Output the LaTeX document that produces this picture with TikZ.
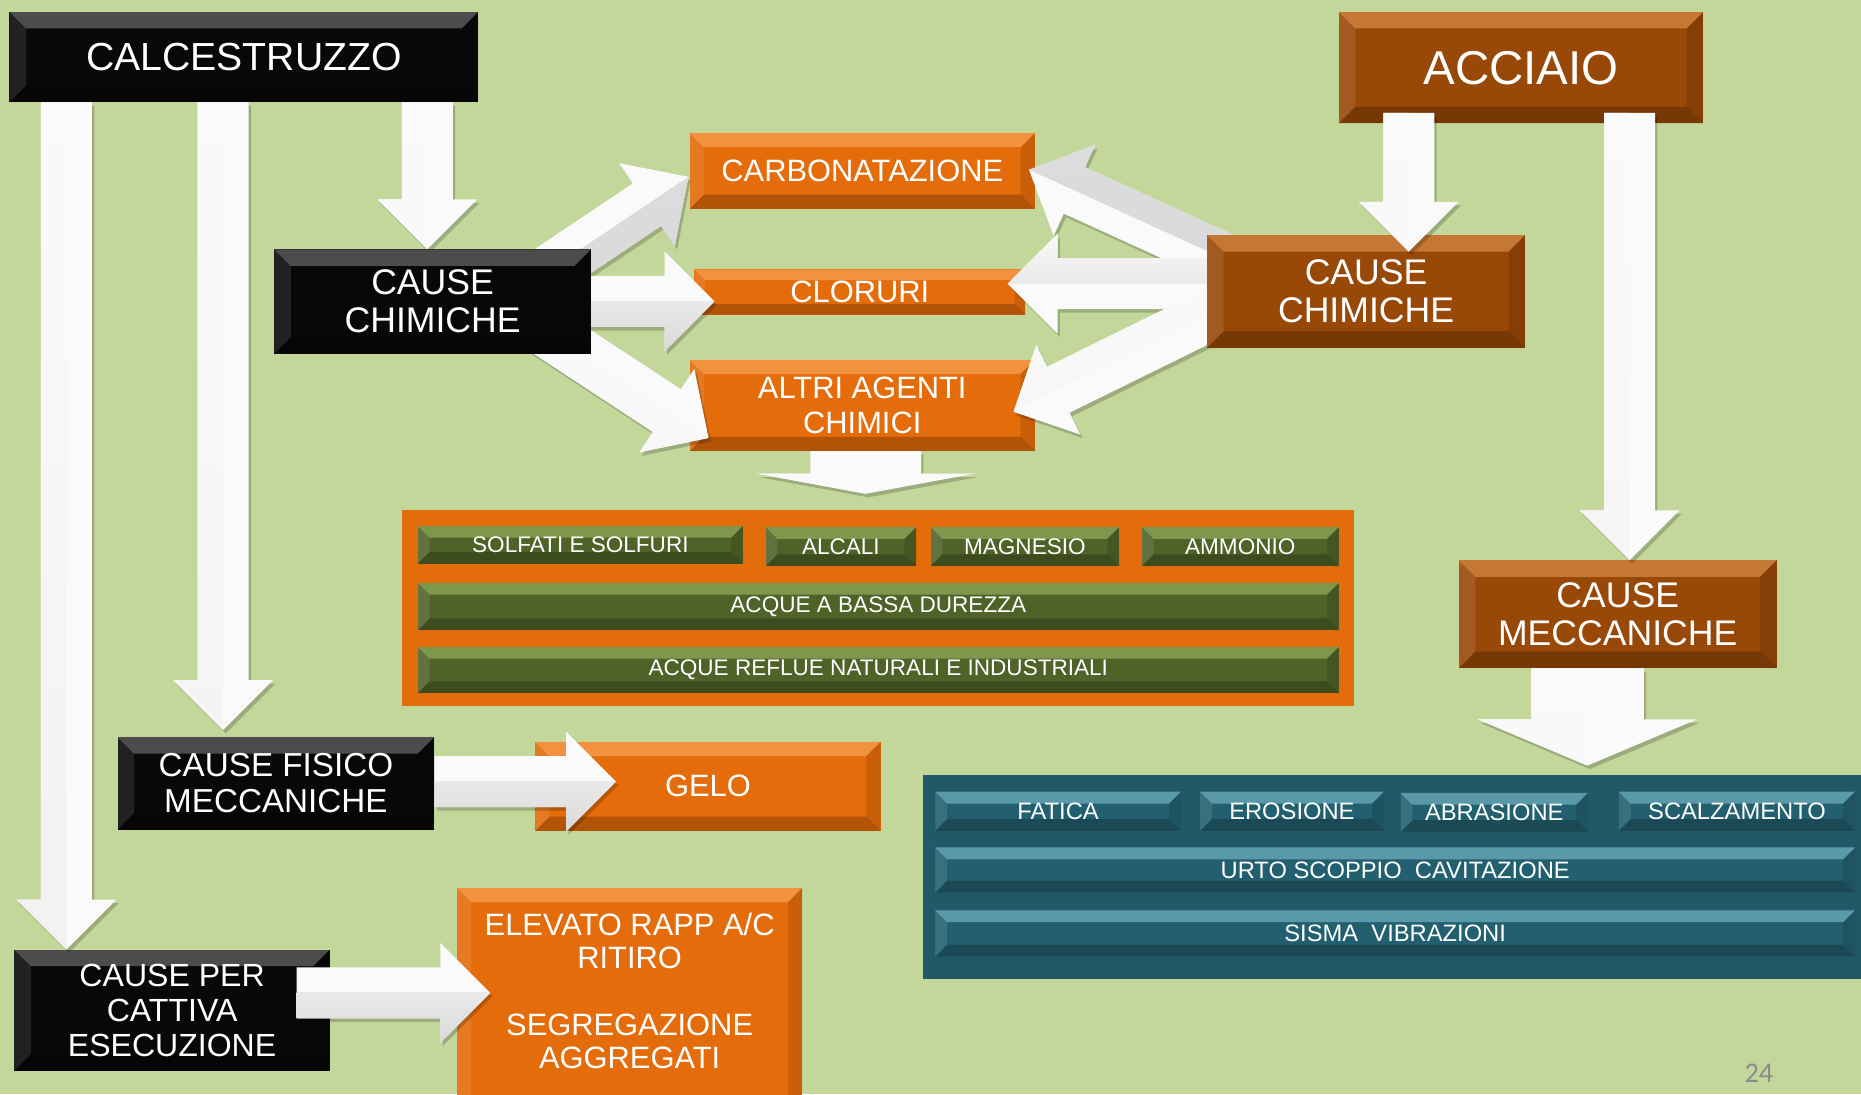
\documentclass[tikz,border=0pt]{standalone}
\usepackage{fontspec}
\setmainfont{Liberation Sans}
\newfontfamily\pnfont{Carlito}
\usetikzlibrary{calc}
\pgfdeclarelayer{bg}
\pgfdeclarelayer{arr}
\pgfdeclarelayer{fg}
\pgfsetlayers{bg,arr,main,fg}
\definecolor{bgc}{HTML}{C4D79B}
\definecolor{orng}{HTML}{E46C0A}
\definecolor{brwn}{HTML}{984807}
\definecolor{blk}{HTML}{080808}
\definecolor{grn}{HTML}{4F6228}
\definecolor{grnhi}{HTML}{A6C36A}
\definecolor{tealp}{HTML}{215968}
\definecolor{tealb}{HTML}{23606F}
\definecolor{tealhi}{HTML}{86C8DA}
\definecolor{orhi}{HTML}{FAB36A}
\definecolor{arrw}{HTML}{FAFAFA}
\definecolor{arrg}{HTML}{D9D9D9}
\definecolor{pgnum}{HTML}{8C8C8C}
\newcommand\bvl[3]{%
  \path (path picture bounding box.north west) coordinate (pNW)
        (path picture bounding box.north east) coordinate (pNE)
        (path picture bounding box.south east) coordinate (pSE)
        (path picture bounding box.south west) coordinate (pSW);
  \path ([shift={(#1,#1)}]pNW) coordinate (iNW)
        ([shift={(-#1,#1)}]pNE) coordinate (iNE)
        ([shift={(-#1,-#1)}]pSE) coordinate (iSE)
        ([shift={(#1,-#1)}]pSW) coordinate (iSW);
  \fill[#2,opacity=#3] (pNW) -- (pNE) -- (iNE) -- (iNW) -- cycle;
  \fill[black,opacity=.22] (pSW) -- (pSE) -- (iSE) -- (iSW) -- cycle;
  \fill[white,opacity=.10] (pNW) -- (iNW) -- (iSW) -- (pSW) -- cycle;
  \fill[black,opacity=.12] (pNE) -- (iNE) -- (iSE) -- (pSE) -- cycle;
}
\tikzset{
  basebox/.style={rectangle, inner sep=0pt, outer sep=0pt, text=white, align=center},
  bev/.style n args={3}{path picture={\bvl{#1}{#2}{#3}}},
  sz/.style 2 args={minimum width=#1pt, minimum height=#2pt},
  blackbox/.style={basebox, fill=blk, bev={14}{white}{.28}},
  orangebox/.style={basebox, fill=orng, bev={12}{orhi}{.55}},
  brownbox/.style={basebox, fill=brwn, bev={14}{orhi}{.45}},
  greenbar/.style={basebox, fill=grn, bev={10}{grnhi}{.55}, font=\fontsize{19}{22}\selectfont},
  tealbar/.style={basebox, fill=tealb, bev={10}{tealhi}{.55}, font=\fontsize{20}{22}\selectfont},
  blockarrow/.style n args={3}{% shaft width, head width, head length
    fill=arrw, draw=none,
    preaction={fill=black, opacity=.20, transform canvas={shift={(2pt,-3pt)}}},
    path picture={\shade[shift={(\bX,\bY)}, rotate=\bA, top color=arrw, bottom color=arrg]
        (-10pt,0pt) rectangle (3000pt,{-\bH*1pt});},
    to path={let \p1=(\tikztostart), \p2=(\tikztotarget),
        \n1={atan2(\y2-\y1,\x2-\x1)}, \n2={veclen(\x2-\x1,\y2-\y1)} in
      \pgfextra{\xdef\bA{\n1}\xdef\bX{\x1}\xdef\bY{\y1}\xdef\bH{#2/2}}
      ([shift={(\p1)},rotate=\n1] 0pt,{#1/2*1pt})
      -- ([shift={(\p1)},rotate=\n1] {\n2*1pt-#3*1pt},{#1/2*1pt})
      -- ([shift={(\p1)},rotate=\n1] {\n2*1pt-#3*1pt},{#2/2*1pt})
      -- ([shift={(\p1)},rotate=\n1] {\n2*1pt},0pt)
      -- ([shift={(\p1)},rotate=\n1] {\n2*1pt-#3*1pt},{-#2/2*1pt})
      -- ([shift={(\p1)},rotate=\n1] {\n2*1pt-#3*1pt},{-#1/2*1pt})
      -- ([shift={(\p1)},rotate=\n1] 0pt,{-#1/2*1pt}) -- cycle}
  },
  barrow/.style={blockarrow={43}{84}{42}},
}
\begin{document}
\begin{tikzpicture}[x=1pt,y=-1pt]
\begin{pgfonlayer}{bg}
\useasboundingbox (0,0) rectangle (1568,922);
\fill[bgc] (0,0) rectangle (1568,922);
% panels
\node[basebox, fill=orng, sz={802}{165}] (opanel) at (740,512.5) {};
\node[basebox, fill=tealp, sz={822}{172}] (bpanel) at (1189,739) {};
% green bars
\node[greenbar, sz={274}{32}] (solf) at (489,459) {SOLFATI E SOLFURI};
\node[greenbar, sz={127}{33}] (alca) at (708.5,460.5) {ALCALI};
\node[greenbar, sz={159}{33}] (magn) at (863.5,460.5) {MAGNESIO};
\node[greenbar, sz={166}{33}] (ammo) at (1045,460.5) {AMMONIO};
\node[greenbar, sz={776}{40}] (acqa) at (740,511) {ACQUE A BASSA DUREZZA};
\node[greenbar, sz={776}{39}] (acqr) at (740,564.5) {ACQUE REFLUE NATURALI E INDUSTRIALI};
% teal bars
\node[tealbar, sz={207}{33}] (fati) at (891.5,683.5) {FATICA};
\node[tealbar, sz={155}{33}] (eros) at (1088.5,683.5) {EROSIONE};
\node[tealbar, sz={158}{33}] (abra) at (1259,684.5) {ABRASIONE};
\node[tealbar, sz={199}{33}] (scal) at (1463.5,683.5) {SCALZAMENTO};
\node[tealbar, sz={775}{38}] (urto) at (1175.5,733) {URTO SCOPPIO\ \ CAVITAZIONE};
\node[tealbar, sz={775}{39}] (sism) at (1175.5,786.5) {SISMA\ \ VIBRAZIONI};
% orange boxes
\node[orangebox, sz={291}{64}, font=\fontsize{26}{29}\selectfont] (carb) at (726.5,144) {CARBONATAZIONE};
\node[orangebox, sz={279}{38}, bev={9}{orhi}{.55}, font=\fontsize{26}{29}\selectfont] (clor) at (724.5,246) {CLORURI};
\node[orangebox, sz={291}{77}, font=\fontsize{26}{29}\selectfont] (altr) at (726.5,341.5) {ALTRI AGENTI\\CHIMICI};
\node[orangebox, sz={291}{75}, font=\fontsize{26}{29}\selectfont] (gelo) at (596.5,662.5) {GELO};
\node[orangebox, sz={291}{192}] (elev) at (530.5,844) {};
\node[text=white, align=center, font=\fontsize{26}{28}\selectfont] (elevt) at (530.5,835) {ELEVATO RAPP A/C\\RITIRO\\~\\SEGREGAZIONE\\AGGREGATI};
\node[blackbox, sz={266}{102}, font=\fontsize{27}{29.5}\selectfont] (per) at (145,851) {CAUSE PER\\CATTIVA\\ESECUZIONE};
\end{pgfonlayer}

% main layer boxes
\node[blackbox, sz={395}{76}, font=\fontsize{33}{38}\selectfont] (calc) at (205.5,48) {CALCESTRUZZO};
\node[blackbox, sz={267}{88}, font=\fontsize{30}{32}\selectfont] (chim1) at (364.5,254) {CAUSE\\CHIMICHE};
\node[blackbox, sz={267}{78}, font=\fontsize{28}{30}\selectfont] (fisi) at (232.5,660) {CAUSE FISICO\\MECCANICHE};
\node[brownbox, sz={307}{94}, font=\fontsize{40}{46}\selectfont] (acci) at (1281.5,57) {ACCIAIO};
\node[brownbox, sz={268}{95}, font=\fontsize{30}{32}\selectfont] (chim2) at (1151,245.5) {CAUSE\\CHIMICHE};
\node[brownbox, sz={268}{91}, font=\fontsize{30}{32}\selectfont] (mecc) at (1363,517.5) {CAUSE\\MECCANICHE};
\node[text=pgnum, font=\pnfont\fontsize{24}{28}\selectfont] (pg) at (1482,904) {24};

% arrow end points
\coordinate (a1s) at ([xshift=48pt]calc.south west);
\coordinate (a1e) at (a1s |- per.north);
\coordinate (a2s) at ([xshift=180pt]calc.south west);
\coordinate (a2e) at ([yshift=6pt]a2s |- fisi.north);
\coordinate (a3s) at ([xshift=352pt]calc.south west);
\coordinate (a3e) at (a3s |- chim1.north);
\coordinate (a4s) at ([xshift=50pt,yshift=-6pt]chim1.center);
\coordinate (a4e) at ([xshift=-1pt,yshift=-5pt]carb.west);
\coordinate (c5) at ([xshift=17pt]clor.west);
\coordinate (a5s) at ([xshift=-30pt]chim1.east);
\coordinate (a5e) at (c5 |- a5s);
\coordinate (a6s) at ([xshift=65pt,yshift=-5pt]chim1.center);
\coordinate (a6e) at ([xshift=16pt,yshift=-27.5pt]altr.west);
\coordinate (a7s) at ([xshift=-102pt,yshift=19.5pt]chim2.center);
\coordinate (a7e) at ([xshift=-5pt,yshift=1pt]carb.east);
\coordinate (a8e) at ([xshift=-15pt,yshift=7pt]clor.east);
\coordinate (c8) at ([xshift=-90pt]chim2.center);
\coordinate (a8s) at (c8 |- a8e);
\coordinate (a9s) at ([xshift=-100pt,yshift=-4.5pt]chim2.center);
\coordinate (a9e) at ([xshift=-18pt,yshift=-5.5pt]altr.east);
\coordinate (a10s) at ([xshift=59pt,yshift=9pt]acci.south west);
\coordinate (c10) at ([yshift=-14pt]chim2.north);
\coordinate (a10e) at (a10s |- c10);
\coordinate (a11s) at ([xshift=245pt,yshift=9pt]acci.south west);
\coordinate (a11e) at (a11s |- mecc.north);
\coordinate (a12s) at ([xshift=-25.5pt]mecc.south);
\coordinate (a12e) at ([yshift=8pt]a12s |- bpanel.north);
\coordinate (a13s) at ([xshift=3pt]altr.south);
\coordinate (a13e) at ([yshift=14pt]a13s |- opanel.north);
\coordinate (a14s) at ([yshift=1.5pt]fisi.east);
\coordinate (c14) at ([xshift=68pt]gelo.west);
\coordinate (a14e) at (c14 |- a14s);
\coordinate (a15s) at ([xshift=-28pt,yshift=14.5pt]per.east);
\coordinate (c15) at ([xshift=28pt]elev.west);
\coordinate (a15e) at (c15 |- a15s);

\begin{pgfonlayer}{arr}
\path[barrow] (a1s) to (a1e);
\path[barrow] (a2s) to (a2e);
\path[barrow] (a3s) to (a3e);
\path[barrow] (a4s) to (a4e);
\path[barrow] (a5s) to (a5e);
\path[barrow] (a6s) to (a6e);
\path[barrow] (a7s) to (a7e);
\path[barrow] (a8s) to (a8e);
\path[barrow] (a9s) to (a9e);
\path[blockarrow={95}{185}{39}] (a12s) to (a12e);
\path[blockarrow={93}{184}{17}] (a13s) to (a13e);
\path[barrow] (a14s) to (a14e);
\path[barrow] (a15s) to (a15e);
\end{pgfonlayer}

\begin{pgfonlayer}{fg}
\path[barrow] (a10s) to (a10e);
\path[barrow] (a11s) to (a11e);
\end{pgfonlayer}
\end{tikzpicture}
\end{document}
